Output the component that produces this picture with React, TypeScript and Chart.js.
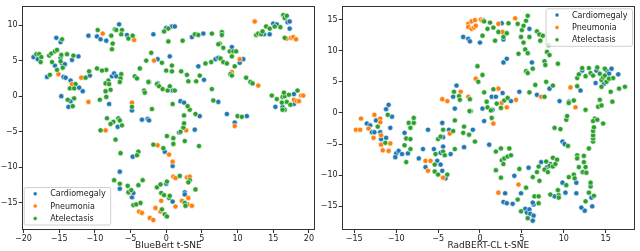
import React, { useEffect, useRef } from "react";
import { Chart, registerables } from "chart.js";
Chart.register(...registerables);

type P = [number, number];

const CATEGORIES = ["Cardiomegaly", "Pneumonia", "Atelectasis"];
const COLORS = ["#1f77b4", "#ff7f0e", "#2ca02c"];

const leftTitle = "BlueBert t-SNE";
const rightTitle = "RadBERT-CL t-SNE";

const leftXTicks = [-20, -15, -10, -5, 0, 5, 10, 15, 20];
const leftYTicks = [-15, -10, -5, 0, 5, 10];
const rightXTicks = [-15, -10, -5, 0, 5, 10, 15];
const rightYTicks = [-15, -10, -5, 0, 5, 10, 15];

const leftCardiomegaly: P[] = [
  [-18.6, 5.5], [-18.0, 5.2], [-15.6, 4.3], [-16.7, 2.7], [-15.4, 8.2], [-14.8, 7.6], [-14.8, 5.4], [-14.6, 4.6],
  [-14.2, 4.5], [-13.2, 5.1], [-12.3, 5.6], [-14.4, 2.7], [-14.1, 2.6], [-13.4, 2.2], [-12.2, 1.2], [-11.7, 0.7],
  [-14.7, 0.0], [-13.4, -0.7], [-13.7, -1.5], [-10.7, 2.9], [-8.0, -1.1], [-7.6, 2.8], [-7.3, 3.2], [-7.0, 2.8],
  [-6.6, 10.1], [-10.9, 8.5], [-9.7, 8.4], [-9.2, 8.0], [-8.4, 7.8], [-5.5, 8.6], [-1.8, 8.7], [0.0, 9.6],
  [0.8, 9.8], [1.2, 9.8], [-1.2, 5.2], [0.5, 5.6], [-1.2, 1.8], [0.9, 0.8], [-4.8, -2.0], [-2.6, -3.2],
  [-2.4, -3.4], [2.0, -0.7], [2.5, -0.9], [4.7, -2.8], [4.0, -4.7], [1.8, -5.1], [-6.8, -4.3], [-4.7, -8.5],
  [-6.5, -10.6], [-6.5, -13.0], [-4.8, -14.2], [-4.6, -13.6], [0.9, -9.8], [0.9, -14.8], [2.6, -13.5], [2.6, -13.8],
  [0.0, -12.3], [-0.2, -7.8], [3.6, 8.3], [4.3, 8.7], [5.2, 8.8], [9.2, 6.9], [6.9, 5.2], [7.3, 5.4],
  [10.3, 4.7], [10.8, 5.2], [4.5, 4.2], [5.3, 2.3], [7.3, -0.8], [8.5, -2.5], [9.6, -3.7], [11.3, -2.8],
  [14.5, 8.7], [15.0, 10.2], [15.5, 10.1], [17.0, 10.4], [17.3, 10.5], [17.3, 9.5], [13.7, 8.7], [15.3, -1.5],
  [16.3, -1.5], [17.9, 0.3], [17.9, -1.1], [-3.4, -3.3],
];

const leftPneumonia: P[] = [
  [-15.1, 3.1], [-13.2, 1.7], [-11.9, 2.6], [-10.9, -0.8], [-8.9, 8.8], [-4.5, 7.9], [-1.7, 5.0], [-4.8, -0.9],
  [-8.5, -4.8], [2.8, -4.8], [-1.2, -6.9], [0.4, -8.2], [0.9, -9.2], [1.0, -11.3], [1.3, -11.5], [2.9, -11.4],
  [3.3, -11.3], [-5.2, -13.6], [-3.8, -16.2], [-3.4, -16.4], [-2.3, -17.1], [-1.8, -17.4], [-1.5, -15.7], [-0.7, -14.7],
  [1.3, -15.5], [-0.8, -16.2], [2.2, -14.7], [3.1, -14.3], [3.0, -15.2], [3.6, -15.4], [9.6, -4.2], [10.3, 5.2],
  [9.2, 3.4], [12.9, 1.5], [12.4, 10.5], [16.9, 8.1], [17.5, 8.2], [17.8, 8.3], [18.2, 8.0], [18.9, 0.1],
  [19.2, 0.1], [17.9, -0.5], [18.3, -0.7], [18.6, -0.7],
];

const leftAtelectasis: P[] = [
  [-18.2, 5.9], [-17.8, 5.9], [-17.5, 5.5], [-17.6, 4.8], [-16.4, 5.7], [-16.1, 6.0], [-15.6, 6.3], [-15.3, 6.5],
  [-16.0, 4.8], [-15.3, 3.7], [-16.3, 3.0], [-14.6, 8.0], [-14.7, 5.8], [-14.8, 4.9], [-14.5, 4.0], [-13.9, 5.9],
  [-13.0, 5.7], [-12.7, 1.7], [-13.5, 1.1], [-12.9, 1.1], [-13.8, -0.5], [-12.9, -0.3], [-13.1, -1.4], [-11.3, 2.6],
  [-10.8, 3.5], [-9.7, 3.9], [-8.4, 3.7], [-8.1, 2.2], [-8.5, 1.8], [-8.0, 1.7], [-7.8, 0.9], [-8.5, 0.7],
  [-8.4, -0.1], [-9.3, -0.5], [-6.3, 3.1], [-6.4, 2.5], [-6.5, 2.0], [-4.4, 2.8], [-4.1, 2.5], [-3.7, 3.9],
  [-2.4, 2.0], [-3.1, 0.8], [-3.0, 0.5], [-9.6, 9.3], [-7.2, 9.4], [-7.0, 9.3], [-6.2, 9.3], [-7.7, 8.5],
  [-6.3, 8.7], [-5.3, 8.1], [-4.7, 8.5], [-7.5, 7.4], [-7.6, 6.6], [-0.3, 9.1], [0.3, 9.5], [0.3, 7.7],
  [-2.1, 6.1], [-0.6, 4.7], [-2.8, 5.0], [0.8, 4.3], [0.0, 3.6], [0.8, 3.5], [-2.5, 2.0], [-1.3, 1.7],
  [-1.0, 1.4], [-0.5, 1.0], [0.2, 0.8], [0.5, 1.4], [1.2, 0.8], [0.9, -1.1], [-2.0, -1.8], [-4.8, -1.5],
  [-8.3, -3.1], [-9.2, -4.8], [-7.4, -3.6], [-6.7, -3.1], [-6.5, -3.4], [-6.2, -4.1], [-7.8, -3.9], [-7.1, -6.1],
  [-6.4, -8.0], [-3.9, -7.8], [-4.1, -8.3], [-1.8, -6.8], [0.1, -5.6], [1.0, -5.9], [-0.4, -7.3], [1.0, -6.7],
  [2.0, -5.0], [2.6, -6.3], [2.4, -4.4], [2.5, -3.8], [2.5, -2.7], [3.3, -1.9], [3.0, -1.4], [4.1, -2.5],
  [4.6, -7.0], [-7.3, -11.8], [-6.5, -12.3], [-5.4, -12.6], [-5.3, -13.5], [-4.9, -13.2], [-3.9, -12.5], [-3.3, -11.8],
  [-4.6, -15.3], [-4.2, -15.2], [-3.6, -15.0], [-1.3, -12.8], [-0.8, -12.4], [0.1, -12.0], [-0.7, -13.6], [-0.3, -13.9],
  [0.4, -14.3], [0.5, -14.0], [-0.6, -15.9], [-0.2, -16.6], [0.1, -16.9], [1.9, -11.2], [3.3, -11.8], [3.1, -12.1],
  [4.1, -13.1], [2.6, -15.0], [2.7, -15.4], [2.3, 7.8], [4.0, 8.7], [4.5, 8.6], [6.4, 8.8], [7.8, 9.0],
  [7.8, 8.6], [7.5, 7.4], [7.3, 7.3], [8.0, 6.8], [7.6, 5.3], [8.0, 4.8], [8.5, 4.6], [8.9, 6.3],
  [9.4, 6.3], [9.8, 6.3], [9.2, 5.6], [9.6, 4.2], [9.0, 3.1], [9.2, 2.9], [2.1, 3.5], [2.9, 3.0],
  [3.1, 2.1], [4.2, 2.1], [4.7, 2.9], [6.3, 4.8], [6.4, 1.0], [6.6, -0.6], [11.2, 2.6], [11.8, 2.0],
  [12.1, 1.8], [10.0, -2.8], [10.6, -2.9], [12.6, 8.6], [12.9, 8.8], [13.3, 8.7], [13.5, 9.1], [14.0, 9.8],
  [14.5, 9.5], [15.2, 9.8], [16.4, 11.4], [16.6, 11.0], [16.9, 11.3], [16.0, 9.7], [16.6, 8.2], [14.8, 0.1],
  [15.5, -0.4], [16.3, -0.1], [16.6, 0.0], [16.5, 0.5], [17.2, 0.2], [18.4, 0.8], [16.2, -0.9], [16.9, -0.8],
  [17.4, -1.2], [16.6, -1.9], [16.3, -1.9], [5.5, 4.6], [-9.0, 3.6],
];

const rightCardiomegaly: P[] = [
  [-2.0, 12.2], [-1.4, 11.9], [-1.2, 11.5], [0.0, 11.3], [0.4, 14.9], [2.6, 14.4], [2.8, 11.8], [5.9, 13.5],
  [2.8, 8.1], [3.2, 8.7], [6.2, 8.1], [-2.8, 4.4], [-3.2, 2.6], [-3.0, 0.7], [0.3, 0.7], [0.5, -1.3],
  [1.5, 0.5], [1.4, 2.6], [1.9, 2.6], [2.7, 3.2], [3.7, 1.9], [4.7, 3.4], [6.8, 2.9], [8.3, 3.9],
  [9.5, 1.9], [-13.5, -1.7], [-13.1, -2.0], [-12.9, -3.1], [-12.6, -3.1], [-12.4, -1.2], [-11.9, -3.1], [-11.8, -4.2],
  [-11.2, -4.0], [-11.2, 0.6], [-10.9, 1.3], [-10.5, -0.6], [-10.7, -2.4], [-10.0, -6.5], [-10.1, -7.1], [-9.7, -6.1],
  [-9.3, -6.6], [-9.0, -3.2], [-8.6, -6.5], [-7.3, -7.3], [-6.8, -5.8], [-6.2, -2.7], [-6.5, -8.7], [-5.5, -5.8],
  [-5.1, -7.7], [-4.5, -1.6], [-4.4, -3.9], [-4.4, -5.4], [-4.7, -6.4], [-4.7, -8.3], [-4.5, -9.3], [-4.1, -10.5],
  [-3.7, -2.7], [-3.5, -6.6], [-1.9, -5.5], [-0.85, -2.7], [1.1, -5.1], [4.1, -10.1], [3.0, -12.9], [2.8, -14.3],
  [3.2, -14.5], [3.9, -14.6], [4.9, -12.9], [5.8, -8.8], [5.4, -15.4], [5.6, -16.0], [5.9, -15.5], [6.0, -16.2],
  [6.4, -16.5], [6.3, -17.3], [6.4, -14.7], [6.3, -14.4], [7.3, -7.9], [8.0, -8.7], [8.4, -8.2], [8.9, -13.4],
  [9.85, -4.6], [10.1, -5.0], [10.2, -12.8], [9.85, -11.2], [11.5, -12.9], [11.5, -11.2], [12.2, 6.8], [12.0, 3.6],
  [13.8, 4.8], [14.8, 4.7], [15.1, 6.8], [15.4, 6.3], [15.7, 7.1], [16.5, 6.2], [13.9, 6.8], [13.4, -15.0],
  [13.3, -13.6], [12.5, -15.7], [12.1, -15.2], [10.6, 1.8],
];

const rightPneumonia: P[] = [
  [-1.4, 14.3], [-1.0, 14.7], [-0.6, 14.9], [0.1, 15.0], [-1.4, 13.8], [-1.0, 13.5], [-0.7, 13.7], [-0.5, 14.0],
  [0.3, 14.8], [2.2, 14.3], [2.7, 13.0], [4.2, 15.2], [-0.5, 5.5], [-2.3, 3.4], [-1.4, 2.6], [-4.5, 2.2],
  [-3.9, 1.9], [2.2, 3.9], [2.6, 1.6], [3.2, 0.9], [4.3, 2.1], [1.6, -1.7], [7.3, 2.6], [10.8, 4.1],
  [11.4, 0.9], [-14.8, -2.7], [-14.3, -2.7], [-14.2, -0.9], [-13.3, -2.5], [-12.7, -4.0], [-12.6, -0.3], [-11.9, -0.9],
  [-11.8, -3.6], [-11.8, -5.1], [-11.6, -6.0], [-11.9, -1.5], [-10.9, -6.1], [-10.7, -4.9], [-6.5, -7.7], [-5.9, -7.7],
  [-6.2, -9.3], [-4.4, -10.4], [-3.6, -3.3], [4.6, -11.5], [2.2, -12.8],
];

const rightAtelectasis: P[] = [
  [0.3, 12.4], [0.5, 14.7], [1.2, 14.5], [0.9, 13.5], [1.6, 13.7], [2.2, 13.0], [1.8, 11.6], [2.8, 12.2],
  [3.2, 12.8], [3.4, 14.4], [4.5, 14.3], [5.0, 13.3], [5.5, 14.8], [5.7, 15.6], [5.2, 14.0], [4.9, 12.2],
  [5.2, 11.3], [5.9, 12.2], [5.4, 10.2], [5.7, 9.6], [4.6, 9.5], [6.8, 13.1], [7.1, 12.6], [7.5, 12.4],
  [7.2, 11.6], [8.2, 10.9], [8.0, 9.8], [8.3, 9.3], [7.7, 8.3], [7.8, 7.7], [9.3, 7.9], [5.5, 6.7],
  [5.7, 6.4], [6.3, 7.1], [-0.3, 7.5], [0.3, 6.1], [-0.2, 5.0], [-3.1, 3.4], [-2.5, 2.7], [-1.2, 2.2],
  [-1.1, 0.3], [0.5, 3.3], [0.8, 1.8], [0.9, 0.9], [1.3, 0.4], [1.4, -0.8], [1.6, 3.8], [2.5, 0.8],
  [2.9, 2.0], [2.0, 1.5], [3.3, 2.4], [5.9, 3.3], [6.6, 4.5], [7.7, 2.6], [7.9, 5.0], [8.7, 4.4],
  [-2.4, 2.1], [-11.0, -0.3], [-11.3, -4.8], [-12.2, -2.2], [-8.5, -1.6], [-7.9, -1.6], [-7.9, -0.8], [-8.3, -2.4],
  [-8.8, -4.1], [-8.3, -4.2], [-8.3, -5.8], [-9.0, -5.2], [-8.8, -7.9], [-5.4, -8.3], [-5.4, -9.4], [-5.0, -9.9],
  [-3.9, -9.9], [-5.3, -6.6], [-5.0, -4.2], [-4.7, -3.8], [-4.4, -2.7], [-4.4, -6.2], [-4.2, -6.8], [-3.0, -1.2],
  [-3.2, -2.9], [-3.0, -5.8], [-1.9, -2.2], [-2.0, -3.2], [-1.3, -3.5], [-0.6, -4.6], [-1.25, 0.3], [1.9, -6.2],
  [2.6, -7.6], [2.8, -8.2], [2.5, -5.7], [2.9, -7.3], [3.3, -7.0], [3.7, -6.8], [3.5, -5.7], [1.9, -9.2],
  [2.5, -10.4], [4.7, -9.0], [4.5, -13.9], [4.9, -15.8], [5.5, -12.0], [5.7, -16.9], [6.5, -13.4], [7.0, -13.4],
  [7.0, -14.5], [6.3, -10.3], [6.8, -9.5], [7.0, -8.6], [7.1, -10.9], [7.7, -9.1], [7.9, -7.8], [8.1, -9.5],
  [8.3, -8.5], [8.7, -7.2], [8.7, -8.6], [9.0, -8.2], [9.2, -7.5], [8.4, -13.1], [9.4, -13.2], [9.3, -12.4],
  [10.3, -11.6], [10.6, -10.3], [11.2, -9.9], [11.3, -10.5], [9.4, -13.6], [8.9, -2.4], [9.6, -2.6], [10.5, -5.3],
  [10.3, -1.1], [10.4, -0.5], [10.6, 1.6], [11.2, 2.0], [11.6, -6.8], [11.6, -7.3], [11.8, -8.7], [12.2, -9.5],
  [12.3, -9.5], [12.4, -6.9], [12.6, -8.7], [12.7, -9.6], [12.4, -7.9], [13.0, -12.8], [13.2, -11.8], [13.2, -11.2],
  [13.6, -13.3], [12.6, -14.2], [13.0, -5.7], [13.5, -4.6], [13.5, -4.1], [13.5, -3.6], [13.5, -2.9], [13.6, -2.3],
  [13.7, -0.9], [13.5, -1.3], [14.0, -1.1], [14.7, -1.7], [14.1, 1.0], [14.5, 1.2], [14.3, 2.1], [12.6, 0.5],
  [11.6, 5.6], [11.8, 6.2], [12.2, 7.2], [12.6, 5.9], [13.0, 7.2], [13.2, 6.4], [13.5, 6.0], [14.0, 7.3],
  [14.3, 6.3], [14.5, 5.3], [14.7, 5.7], [14.9, 6.0], [15.1, 5.0], [15.4, 5.5], [15.9, 5.6], [15.6, 3.4],
  [16.6, 3.9], [17.3, 4.2], [14.5, 4.2], [15.8, 1.8], [14.9, 7.1], [11.6, 4.3],
];

const FONT = "DejaVu Sans";
const FONT_SIZE = 8;
const TITLE_SIZE = 9;

const framePlugin = {
  id: "mplFrame",
  afterDraw(chart: any) {
    const { ctx, chartArea } = chart;
    const { left, top, right, bottom } = chartArea;
    ctx.save();
    ctx.strokeStyle = "#333";
    ctx.lineWidth = 1;
    const l = Math.round(left) + 0.5;
    const t = Math.round(top) + 0.5;
    const r = Math.round(right) - 0.5;
    const b = Math.round(bottom) - 0.5;
    ctx.strokeRect(l, t, r - l, b - t);
    ctx.restore();
  },
};

const legendPlugin = {
  id: "mplLegend",
  afterDraw(chart: any, _args: any, opts: any) {
    const { ctx, chartArea } = chart;
    ctx.save();
    ctx.font = `${FONT_SIZE}px "${FONT}"`;
    const textW = Math.max(...CATEGORIES.map((c) => ctx.measureText(c).width));
    const w = 26 + textW + 5;
    const h = 37.5;
    let x: number, y: number;
    if (opts.loc === "lower left") {
      x = chartArea.left + 2.5;
      y = chartArea.bottom - 5 - h;
    } else {
      x = chartArea.right - 2.5 - w;
      y = chartArea.top + 3;
    }
    const r = 2;
    ctx.beginPath();
    ctx.moveTo(x + r, y);
    ctx.lineTo(x + w - r, y);
    ctx.quadraticCurveTo(x + w, y, x + w, y + r);
    ctx.lineTo(x + w, y + h - r);
    ctx.quadraticCurveTo(x + w, y + h, x + w - r, y + h);
    ctx.lineTo(x + r, y + h);
    ctx.quadraticCurveTo(x, y + h, x, y + h - r);
    ctx.lineTo(x, y + r);
    ctx.quadraticCurveTo(x, y, x + r, y);
    ctx.closePath();
    ctx.fillStyle = "rgba(255,255,255,0.8)";
    ctx.fill();
    ctx.strokeStyle = "#d0d0d0";
    ctx.lineWidth = 1;
    ctx.stroke();
    ctx.textBaseline = "middle";
    ctx.textAlign = "left";
    CATEGORIES.forEach((c, i) => {
      const cy = y + 6.3 + i * 12.3;
      ctx.beginPath();
      ctx.arc(x + 11, cy, 2, 0, Math.PI * 2);
      ctx.fillStyle = COLORS[i];
      ctx.fill();
      ctx.strokeStyle = "#fff";
      ctx.lineWidth = 0.5;
      ctx.stroke();
      ctx.fillStyle = "#222";
      ctx.fillText(c, x + 26, cy + 0.5);
    });
    ctx.restore();
  },
};

type PanelProps = {
  series: P[][];
  xTicks: number[];
  yTicks: number[];
  xMin: number;
  xMax: number;
  yMin: number;
  yMax: number;
  title: string;
  legendLoc: string;
  left: number;
};

const fmt = (v: number) => String(v).replace("-", "\u2212");

function Panel(props: PanelProps) {
  const ref = useRef<HTMLCanvasElement | null>(null);
  useEffect(() => {
    if (!ref.current) return;
    const tickColor = "#333";
    const chart = new Chart(ref.current, {
      type: "scatter",
      data: {
        datasets: props.series.map((pts, i) => ({
          label: CATEGORIES[i],
          data: pts.map(([x, y]) => ({ x, y })),
          backgroundColor: COLORS[i],
          borderColor: "#ffffff",
          borderWidth: 0.6,
          pointRadius: 2.6,
          pointHoverRadius: 2.6,
          order: 3 - i,
        })),
      },
      options: {
        responsive: false,
        animation: false,
        events: [],
        devicePixelRatio: 1,
        layout: { padding: { left: 0, right: 5, top: 2, bottom: 0 } },
        plugins: {
          legend: { display: false },
          tooltip: { enabled: false },
          mplLegend: { loc: props.legendLoc },
        } as any,
        scales: {
          x: {
            type: "linear",
            min: props.xMin,
            max: props.xMax,
            afterBuildTicks: (axis: any) => {
              axis.ticks = props.xTicks.map((v) => ({ value: v }));
            },
            afterFit: (axis: any) => {
              axis.height = 21;
            },
            grid: { drawOnChartArea: false, drawTicks: true, tickLength: 3, color: tickColor, lineWidth: 1 },
            border: { display: false },
            ticks: {
              color: "#222",
              padding: 1,
              font: { family: FONT, size: FONT_SIZE },
              callback: (v: any) => fmt(Number(v)),
              maxRotation: 0,
              autoSkip: false,
            },
            title: {
              display: true,
              text: props.title,
              color: "#222",
              font: { family: FONT, size: TITLE_SIZE, lineHeight: 1.1 },
              padding: { top: 0, bottom: 0 },
            },
          },
          y: {
            type: "linear",
            min: props.yMin,
            max: props.yMax,
            afterBuildTicks: (axis: any) => {
              axis.ticks = props.yTicks.map((v) => ({ value: v }));
            },
            afterFit: (axis: any) => {
              axis.width = 21.7;
            },
            grid: { drawOnChartArea: false, drawTicks: true, tickLength: 3, color: tickColor, lineWidth: 1 },
            border: { display: false },
            ticks: {
              color: "#222",
              padding: 1,
              font: { family: FONT, size: FONT_SIZE },
              callback: (v: any) => fmt(Number(v)),
              autoSkip: false,
            },
          },
        },
      },
      plugins: [framePlugin, legendPlugin],
    } as any);
    return () => chart.destroy();
  }, []);
  return (
    <canvas
      ref={ref}
      width={320}
      height={251}
      style={{ position: "absolute", left: props.left, top: 0, width: 320, height: 251 }}
    />
  );
}

export default function App() {
  return (
    <div style={{ position: "fixed", left: 0, top: 0, width: 640, height: 251, background: "#fff", overflow: "hidden" }}>
      <Panel
        series={[leftCardiomegaly, leftPneumonia, leftAtelectasis]}
        xTicks={leftXTicks}
        yTicks={leftYTicks}
        xMin={-20.25}
        xMax={20.85}
        yMin={-18.8}
        yMax={12.7}
        title={leftTitle}
        legendLoc="lower left"
        left={0}
      />
      <Panel
        series={[rightCardiomegaly, rightPneumonia, rightAtelectasis]}
        xTicks={rightXTicks}
        yTicks={rightYTicks}
        xMin={-16.5}
        xMax={18.5}
        yMin={-18.8}
        yMax={17.2}
        title={rightTitle}
        legendLoc="upper right"
        left={320}
      />
    </div>
  );
}
